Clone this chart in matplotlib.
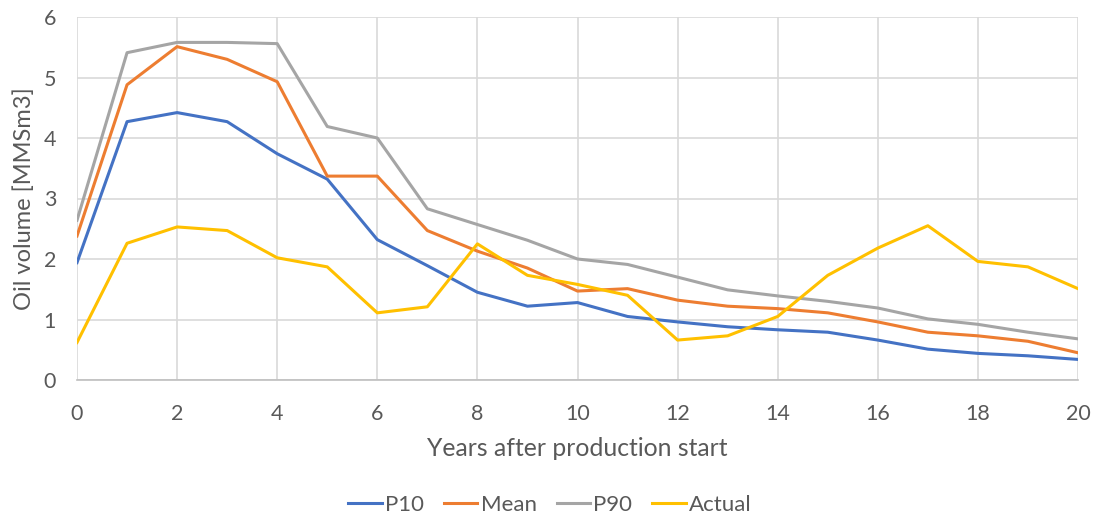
import matplotlib
matplotlib.use("Agg")
import matplotlib.pyplot as plt

years = list(range(0, 21))
p10 = [1.94, 4.27, 4.42, 4.27, 3.74, 3.32, 2.32, 1.89, 1.45, 1.22, 1.28, 1.05,
       0.96, 0.88, 0.83, 0.79, 0.66, 0.51, 0.44, 0.40, 0.34]
mean = [2.38, 4.88, 5.51, 5.30, 4.93, 3.37, 3.37, 2.47, 2.13, 1.85, 1.47, 1.51,
        1.32, 1.22, 1.18, 1.11, 0.96, 0.79, 0.73, 0.64, 0.45]
p90 = [2.64, 5.41, 5.58, 5.58, 5.56, 4.19, 4.00, 2.83, 2.57, 2.31, 2.00, 1.91,
       1.70, 1.49, 1.39, 1.30, 1.19, 1.01, 0.92, 0.79, 0.68]
actual = [0.62, 2.26, 2.53, 2.47, 2.02, 1.87, 1.11, 1.21, 2.25, 1.73, 1.58, 1.40,
          0.66, 0.73, 1.05, 1.73, 2.18, 2.55, 1.96, 1.87, 1.51]

series = [("P10", p10, "#4472C4"), ("Mean", mean, "#ED7D31"),
          ("P90", p90, "#A5A5A5"), ("Actual", actual, "#FFC000")]

plt.rcParams['font.family'] = ['Lato', 'DejaVu Sans']
txt = "#595959"

fig = plt.figure(figsize=(10.97, 5.2), dpi=100)
ax = fig.add_axes([77/1097, 1 - 380/520, (1078 - 77)/1097, (380 - 17)/520])

for name, vals, col in series:
    ax.plot(years, vals, color=col, lw=2.2, label=name, solid_joinstyle='round')

ax.set_xlim(0, 20)
ax.set_ylim(0, 6)
ax.set_xticks(range(0, 21, 2))
ax.set_yticks(range(0, 7))
ax.grid(True, color="#D9D9D9", lw=1.2)
ax.set_axisbelow(True)
for s in ["top", "right", "left"]:
    ax.spines[s].set_visible(False)
ax.spines["bottom"].set_color("#BFBFBF")
ax.spines["bottom"].set_linewidth(1.2)
ax.tick_params(axis="both", length=0, labelsize=15.5, colors=txt)
ax.tick_params(axis="x", pad=17)
ax.tick_params(axis="y", pad=15)
ax.set_xlabel("Years after production start", fontsize=17.8, color=txt, labelpad=10)
ax.set_ylabel("Oil volume [MMSm3]", fontsize=17, color=txt, labelpad=6)

leg = fig.legend(loc="center", bbox_to_anchor=(550/1097, 1 - 505/520), ncol=4,
                 frameon=False, fontsize=16, handlelength=1.5, columnspacing=0.9,
                 handletextpad=0.15)
for t in leg.get_texts():
    t.set_color(txt)

fig.savefig("out.png", dpi=100)
